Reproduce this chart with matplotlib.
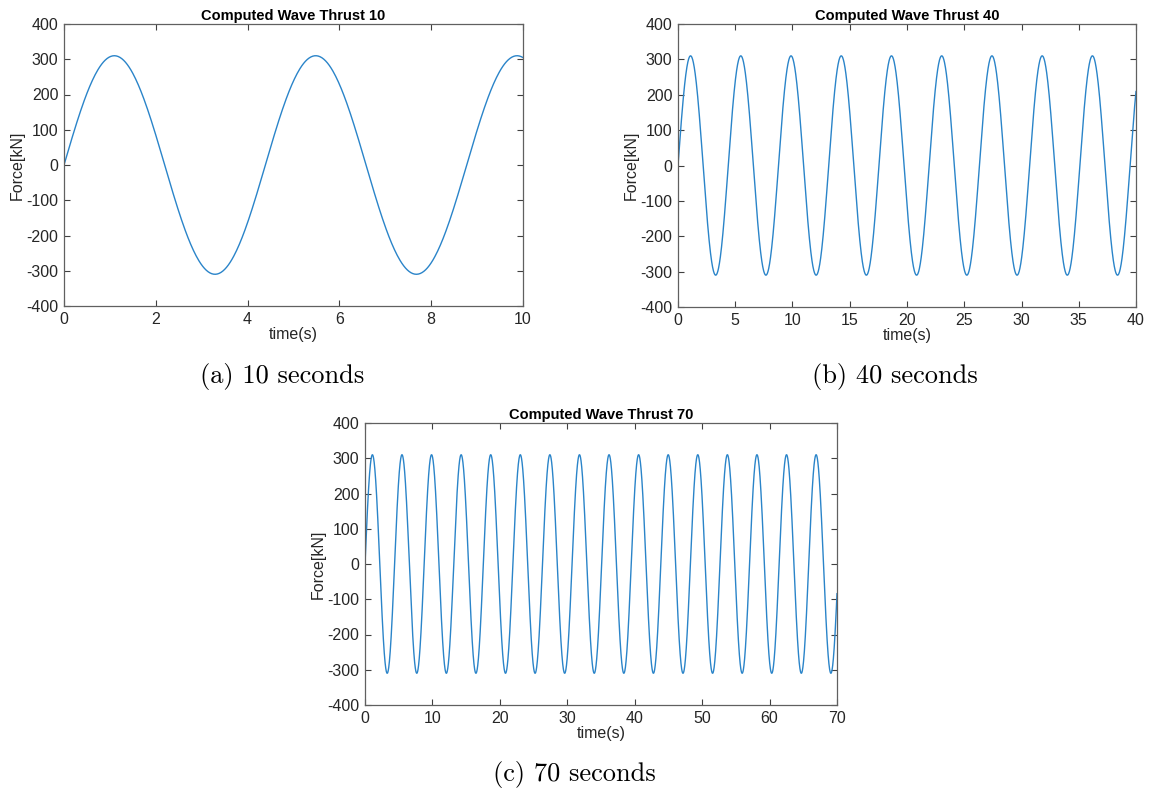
import matplotlib
import matplotlib.pyplot as plt
import numpy as np

matplotlib.use('Agg')

# wave parameters
durations = [10, 40, 70]
amplitude = 310.0        # kN, peak force
period = 4.387           # s, peaks at ~1.1, 5.5, 9.9 ...
dt = 0.02
xtick_steps = [2, 5, 10]
captions = ['(a) 10 seconds', '(b) 40 seconds', '(c) 70 seconds']
yticks = [-400, -300, -200, -100, 0, 100, 200, 300, 400]

W, H = 1149, 793
# axes boxes in pixels: left, top, right, bottom
boxes = [(64, 24, 523, 306), (678, 24, 1136, 307), (365, 423, 837, 705)]
caption_pos = [(282, 377), (895, 377), (574, 774)]

plt.rcParams['font.family'] = ['Liberation Sans', 'DejaVu Sans']
plt.rcParams['axes.unicode_minus'] = False

fig = plt.figure(figsize=(W / 100, H / 100), dpi=100)

for dur, step, box in zip(durations, xtick_steps, boxes):
    l, t, r, b = box
    ax = fig.add_axes([l / W, 1 - b / H, (r - l) / W, (b - t) / H])
    time = np.arange(0, dur + dt / 2, dt)
    force = amplitude * np.sin(2 * np.pi * time / period)
    ax.plot(time, force, color='#2a84c9', lw=1.0)
    ax.set_xlim(0, dur)
    ax.set_ylim(-400, 400)
    ax.set_xticks(np.arange(0, dur + 1, step))
    ax.set_yticks(yticks)
    ax.tick_params(direction='in', top=True, right=True, length=4, width=0.8,
                   labelsize=11.5, colors='#404040', labelcolor='#262626', pad=4)
    for sp in ax.spines.values():
        sp.set_color('#606060')
        sp.set_linewidth(0.9)
    ax.set_title(f'Computed Wave Thrust {dur}', fontsize=10.5, fontweight='bold', pad=3)
    ax.set_xlabel('time(s)', fontsize=11.5, labelpad=0, color='#262626')
    ax.set_ylabel('Force[kN]', fontsize=11.5, labelpad=1, color='#262626')

for cap, (cx, cy) in zip(captions, caption_pos):
    fig.text(cx / W, 1 - cy / H, cap, family='cmr10', fontsize=19,
             ha='center', va='center')

fig.savefig('out.png', dpi=100)
